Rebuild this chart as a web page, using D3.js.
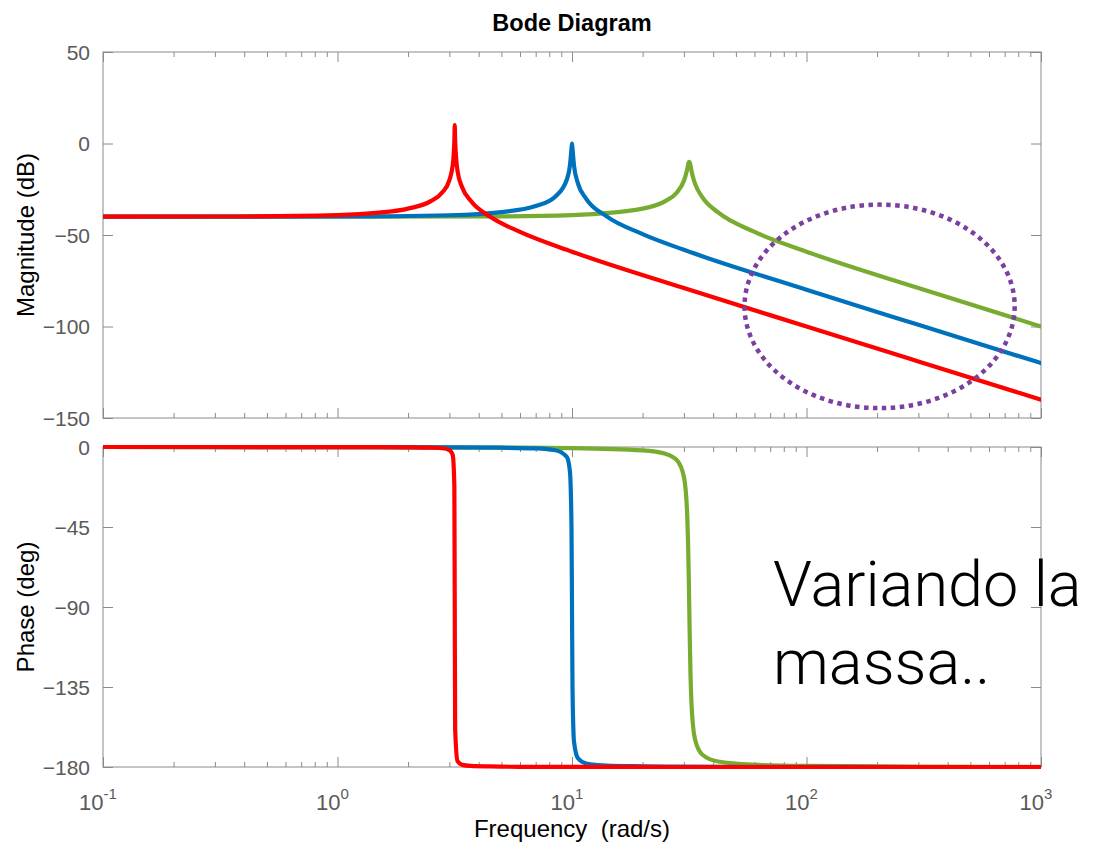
<!DOCTYPE html>
<html>
<head>
<meta charset="utf-8">
<script src="https://cdn.jsdelivr.net/npm/d3@7"></script>
<style>
  body { margin: 0; background: #fff; }
  text { font-family: "Liberation Sans", Arial, sans-serif; }
</style>
</head>
<body>
<div id="chart"></div>
<script>
// values (frequency in rad/s, magnitude in dB, phase in deg)
const redFreq = [0.1, 0.3, 1, 1.5, 2, 2.5, 2.8, 3.0, 3.1, 3.15, 3.1623, 3.175, 3.25, 3.4, 3.7, 4.5, 6, 10, 30, 100, 300, 1000]
const redMag = [-40.0, -39.9, -39.1, -37.8, -35.6, -31.5, -26.7, -20.0, -11.8, 1.5, 10.0, 1.3, -15.0, -23.9, -31.3, -40.2, -48.3, -59.1, -79.0, -100.0, -119.1, -140.0]
const redPhase = [0, 0, -0.1, -0.1, -0.2, -0.4, -0.7, -1.7, -4.5, -22.1, -90, -158.5, -176.7, -178.8, -179.4, -179.7, -179.9, -179.9, -180, -180, -180, -180]

const blueFreq = [0.1, 1, 3, 5, 7, 8.5, 9.5, 9.8, 9.95, 10, 10.05, 10.2, 10.6, 11.5, 14, 20, 30, 100, 300, 1000]
const blueMag = [-40.0, -39.9, -39.2, -37.5, -34.2, -28.9, -19.8, -12.0, -3.0, 0.0, -3.0, -12.1, -21.8, -30.2, -39.7, -49.5, -58.1, -79.9, -99.1, -120.0]
const bluePhase = [0, -0.1, -0.2, -0.4, -0.8, -1.8, -5.6, -13.9, -44.9, -90, -134.9, -165.8, -175.1, -178.0, -179.2, -179.6, -179.8, -179.9, -180, -180]

const greenFreq = [0.1, 1, 5, 10, 20, 25, 28, 30, 30.5, 31, 31.25, 31.5, 31.623, 31.75, 32, 32.3, 32.8, 33.5, 36, 42, 60, 100, 300, 1000]
const greenMag = [-40.0, -40.0, -39.8, -39.1, -35.6, -31.5, -26.8, -20.4, -17.6, -14.0, -11.8, -10.2, -10.0, -10.3, -12.0, -14.7, -18.3, -22.1, -29.5, -37.7, -48.3, -59.1, -79.0, -100.0]
const greenPhase = [0, -0.1, -0.3, -0.6, -1.9, -3.8, -7.4, -16.7, -23.6, -38.5, -53.2, -76.2, -90, -104.2, -126.9, -143.3, -156.6, -164.7, -173.1, -176.9, -178.7, -179.4, -179.8, -179.9]

const magTicks = [50, 0, -50, -100, -150]
const phaseTicks = [0, -45, -90, -135, -180]
const freqTicks = [0.1, 1, 10, 100, 1000]
const freqExp = ['-1', '0', '1', '2', '3']

// annotation ellipse (centre freq, centre dB, half width in decades, half height in dB)
const ring = { freq: 205, db: -89, decades: 0.576, dbHalf: 55.6 }
const note = ['Variando la', 'massa..']

const series = [
  { name: 'green', color: '#77ac30', freq: greenFreq, mag: greenMag, phase: greenPhase },
  { name: 'blue', color: '#0072bd', freq: blueFreq, mag: blueMag, phase: bluePhase },
  { name: 'red', color: '#ff0000', freq: redFreq, mag: redMag, phase: redPhase },
]

const width = 1097, height = 844
const left = 103, right = 1041
const axisColor = '#8a8a8a', labelColor = '#5a5a5a'

const svg = d3.select('#chart').append('svg')
  .attr('width', width)
  .attr('height', height)

const x = d3.scaleLog().domain([0.1, 1000]).range([left, right])
const yMag = d3.scaleLinear().domain([-150, 50]).range([418, 52])
const yPhase = d3.scaleLinear().domain([-180, 0]).range([767, 447])

// minor ticks 2..9 of every decade
const minors = []
for (let d = -1; d < 3; d++) {
  for (let k = 2; k <= 9; k++) minors.push(k * Math.pow(10, d))
}

function panel(y, ticks, key, clipId) {
  const [yb, yt] = y.range()
  const g = svg.append('g')

  // y axes, ticks pointing inward
  g.append('g').attr('transform', `translate(${left},0)`)
    .call(d3.axisLeft(y).tickValues(ticks).tickSize(-10).tickSizeOuter(0).tickPadding(13))
  g.append('g').attr('transform', `translate(${right},0)`)
    .call(d3.axisRight(y).tickValues(ticks).tickSize(-10).tickSizeOuter(0).tickFormat(''))

  // x ticks on both edges
  g.append('g').attr('transform', `translate(0,${yb})`)
    .call(d3.axisBottom(x).tickValues(freqTicks).tickSize(-10).tickSizeOuter(0).tickFormat(''))
  g.append('g').attr('transform', `translate(0,${yb})`)
    .call(d3.axisBottom(x).tickValues(minors).tickSize(-5).tickSizeOuter(0).tickFormat(''))
  g.append('g').attr('transform', `translate(0,${yt})`)
    .call(d3.axisTop(x).tickValues(freqTicks).tickSize(-10).tickSizeOuter(0).tickFormat(''))
  g.append('g').attr('transform', `translate(0,${yt})`)
    .call(d3.axisTop(x).tickValues(minors).tickSize(-5).tickSizeOuter(0).tickFormat(''))

  g.selectAll('.domain').remove()
  g.selectAll('.tick line').attr('stroke', axisColor)
  g.selectAll('.tick text')
    .attr('fill', labelColor)
    .attr('dy', '0.35em')
    .style('font-size', '21px')
    .style('font-family', '"Liberation Sans", Arial, sans-serif')

  // box
  g.append('rect')
    .attr('x', left).attr('y', yt)
    .attr('width', right - left).attr('height', yb - yt)
    .attr('fill', 'none').attr('stroke', axisColor).attr('stroke-width', 1)

  svg.append('clipPath').attr('id', clipId)
    .append('rect')
    .attr('x', left).attr('y', yt - 3)
    .attr('width', right - left).attr('height', yb - yt + 6)

  const line = d3.line()
    .x(d => x(d[0]))
    .y(d => y(d[1]))
    .curve(d3.curveMonotoneX)

  svg.append('g').attr('clip-path', `url(#${clipId})`)
    .selectAll('path')
    .data(series)
    .enter()
    .append('path')
    .attr('d', s => line(s.freq.map((f, i) => [f, s[key][i]])))
    .attr('fill', 'none')
    .attr('stroke', s => s.color)
    .attr('stroke-width', 4.2)
    .attr('stroke-linejoin', 'round')
    .attr('stroke-linecap', 'round')
}

panel(yMag, magTicks, 'mag', 'clip-mag')
panel(yPhase, phaseTicks, 'phase', 'clip-phase')

// frequency labels 10^n
const xl = svg.append('g')
  .selectAll('text')
  .data(freqTicks)
  .enter()
  .append('text')
  .attr('x', d => x(d) - 5)
  .attr('y', 810)
  .attr('text-anchor', 'middle')
  .attr('fill', labelColor)
  .style('font-size', '22px')
xl.append('tspan').text('10')
xl.append('tspan')
  .attr('dy', -11)
  .style('font-size', '15px')
  .text((d, i) => freqExp[i])

// titles
svg.append('text')
  .attr('x', (left + right) / 2).attr('y', 31)
  .attr('text-anchor', 'middle')
  .style('font-size', '23.5px').style('font-weight', 'bold')
  .text('Bode Diagram')

svg.append('text')
  .attr('x', (left + right) / 2).attr('y', 837)
  .attr('text-anchor', 'middle')
  .style('font-size', '24px')
  .attr('xml:space', 'preserve')
  .text('Frequency  (rad/s)')

svg.append('text')
  .attr('transform', `translate(34,${(52 + 418) / 2}) rotate(-90)`)
  .attr('text-anchor', 'middle')
  .style('font-size', '24px')
  .text('Magnitude (dB)')

svg.append('text')
  .attr('transform', `translate(34,${(447 + 767) / 2}) rotate(-90)`)
  .attr('text-anchor', 'middle')
  .style('font-size', '24px')
  .text('Phase (deg)')

// dotted ellipse annotation
const ex0 = x(ring.freq / Math.pow(10, ring.decades))
const ex1 = x(ring.freq * Math.pow(10, ring.decades))
svg.append('ellipse')
  .attr('cx', x(ring.freq))
  .attr('cy', yMag(ring.db))
  .attr('rx', (ex1 - ex0) / 2)
  .attr('ry', yMag(ring.db - ring.dbHalf) - yMag(ring.db))
  .attr('fill', 'none')
  .attr('stroke', '#7b3fa0')
  .attr('stroke-width', 4.5)
  .attr('stroke-dasharray', '4.5 4.5')

// note text
svg.append('g')
  .selectAll('text')
  .data(note)
  .enter()
  .append('text')
  .attr('x', 773)
  .attr('y', (d, i) => 606 + i * 78)
  .style('font-family', 'Roboto, "Liberation Sans", sans-serif')
  .style('font-weight', 300)
  .style('font-size', '63px')
  .attr('fill', '#000')
  .text(d => d)
</script>
</body>
</html>
